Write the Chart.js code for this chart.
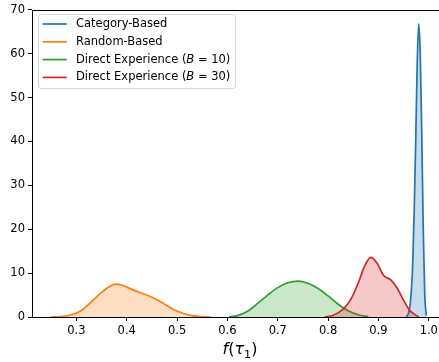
<!DOCTYPE html>
<html>
<head>
<meta charset="utf-8">
<script src="https://cdn.jsdelivr.net/npm/chart.js@4.4.0/dist/chart.umd.min.js"></script>
<style>
  html, body { margin: 0; padding: 0; background: #fff; overflow: hidden; }
</style>
</head>
<body>
<canvas id="kde" width="445" height="362"></canvas>
<script>
// density curves
const catX = [0.955, 0.96, 0.964, 0.968, 0.971, 0.974, 0.977, 0.980, 0.983, 0.986, 0.989, 0.992, 0.995];
const catY = [0, 1, 4, 12, 24, 40, 58, 66.8, 60, 42, 20, 5, 0.3];

const randX = [0.248, 0.27, 0.29, 0.31, 0.33, 0.35, 0.365, 0.378, 0.39, 0.41, 0.43, 0.45, 0.47, 0.49, 0.51, 0.53, 0.55, 0.567];
const randY = [0, 0.1, 0.5, 1.5, 3.5, 5.6, 6.9, 7.5, 7.3, 6.3, 5.4, 4.5, 3.3, 1.9, 0.9, 0.3, 0.05, 0];

const de10X = [0.603, 0.62, 0.64, 0.66, 0.68, 0.70, 0.72, 0.74, 0.76, 0.78, 0.80, 0.82, 0.84, 0.86, 0.88];
const de10Y = [0, 0.3, 1.3, 3.1, 5.0, 6.7, 7.8, 8.2, 7.7, 6.5, 4.8, 2.9, 1.4, 0.5, 0.05];

const de30X = [0.793, 0.81, 0.83, 0.845, 0.86, 0.872, 0.885, 0.897, 0.91, 0.925, 0.937, 0.95, 0.962, 0.98];
const de30Y = [0, 0.4, 1.8, 4.0, 7.8, 11.5, 13.6, 12.3, 9.5, 8.4, 6.6, 3.8, 1.5, 0];

const seriesNames = ['Category-Based', 'Random-Based', 'Direct Experience (B = 10)', 'Direct Experience (B = 30)'];
// legend text pieces, true = italic (math)
const legendParts = [
  [['Category-Based', false]],
  [['Random-Based', false]],
  [['Direct Experience (', false], ['B', true], [' = 10)', false]],
  [['Direct Experience (', false], ['B', true], [' = 30)', false]]
];
const xTicks = [0.3, 0.4, 0.5, 0.6, 0.7, 0.8, 0.9, 1.0];
const yTicks = [0, 10, 20, 30, 40, 50, 60, 70];

const colors = ['31,119,180', '255,127,14', '44,160,44', '214,39,40'];
const FONT = "'DejaVu Sans', sans-serif";

function pts(xs, ys) {
  return xs.map((x, i) => ({ x: x, y: ys[i] }));
}

const curves = [pts(catX, catY), pts(randX, randY), pts(de10X, de10Y), pts(de30X, de30Y)];

const datasets = curves.map((d, i) => ({
  label: seriesNames[i],
  data: d,
  borderColor: 'rgb(' + colors[i] + ')',
  backgroundColor: 'rgba(' + colors[i] + ',0.25)',
  borderWidth: 1.7,
  pointRadius: 0,
  fill: 'origin',
  cubicInterpolationMode: 'monotone',
  order: 4 - i
}));

function drawRuns(ctx, runs, x, y, size) {
  runs.forEach(r => {
    ctx.font = (r[1] ? 'italic ' : '') + size + 'px ' + FONT;
    ctx.fillText(r[0], x, y);
    x += ctx.measureText(r[0]).width;
  });
}

const extras = {
  id: 'extras',
  afterDraw(chart) {
    const ctx = chart.ctx;
    const a = chart.chartArea;
    ctx.save();

    // spines
    ctx.strokeStyle = '#000';
    ctx.lineWidth = 1;
    ctx.strokeRect(Math.round(a.left) + 0.5, Math.round(a.top) + 0.5,
      Math.round(a.right - a.left), Math.round(a.bottom - a.top));

    // legend
    const lx = 38.5, ly = 14.5, lw = 197, lh = 74;
    ctx.beginPath();
    ctx.roundRect(lx, ly, lw, lh, 3);
    ctx.fillStyle = 'rgba(255,255,255,0.8)';
    ctx.fill();
    ctx.strokeStyle = 'rgba(204,204,204,0.8)';
    ctx.stroke();
    ctx.textBaseline = 'middle';
    ctx.fillStyle = '#000';
    legendParts.forEach((runs, i) => {
      const y = 24 + i * 17.8;
      ctx.beginPath();
      ctx.strokeStyle = 'rgb(' + colors[i] + ')';
      ctx.lineWidth = 1.7;
      ctx.moveTo(42.7, y);
      ctx.lineTo(66.7, y);
      ctx.stroke();
      ctx.fillStyle = '#000';
      drawRuns(ctx, runs, 76, y, 11.5);
    });

    // x axis title f(tau_1)
    ctx.textBaseline = 'alphabetic';
    const big = 16, small = 11.2;
    const parts = [['f', 'italic ', big, 0], ['(', '', big, 0], ['\u03c4', 'italic ', big, 0], ['1', '', small, 3.5], [')', '', big, 0]];
    let w = 0;
    parts.forEach(p => { ctx.font = p[1] + p[2] + 'px ' + FONT; w += ctx.measureText(p[0]).width; });
    let x = 240 - w / 2;
    const base = 354;
    parts.forEach(p => {
      ctx.font = p[1] + p[2] + 'px ' + FONT;
      ctx.fillText(p[0], x, base + p[3]);
      x += ctx.measureText(p[0]).width;
    });
    ctx.restore();
  }
};

new Chart(document.getElementById('kde'), {
  type: 'line',
  data: { datasets: datasets },
  options: {
    responsive: false,
    animation: false,
    layout: { padding: { top: 8, right: 1, left: 0, bottom: 0 } },
    plugins: { legend: { display: false }, tooltip: { enabled: false } },
    scales: {
      x: {
        type: 'linear',
        min: 0.2118,
        max: 1.0302,
        afterBuildTicks: s => { s.ticks = xTicks.map(v => ({ value: v })); },
        afterFit: s => { s.height = 45; },
        border: { display: false },
        grid: { drawOnChartArea: false, drawTicks: true, tickLength: 4, color: '#000' },
        ticks: {
          autoSkip: false, maxRotation: 0, minRotation: 0, padding: 3,
          color: '#000', font: { family: FONT, size: 11.5 },
          callback: v => v.toFixed(1)
        }
      },
      y: {
        min: 0,
        max: 70,
        afterBuildTicks: s => { s.ticks = yTicks.map(v => ({ value: v })); },
        afterFit: s => { s.width = 32; },
        border: { display: false },
        grid: { drawOnChartArea: false, drawTicks: true, tickLength: 4, color: '#000' },
        ticks: {
          autoSkip: false, padding: 3,
          color: '#000', font: { family: FONT, size: 11.5 },
          callback: v => String(v)
        }
      }
    }
  },
  plugins: [extras]
});
</script>
</body>
</html>
